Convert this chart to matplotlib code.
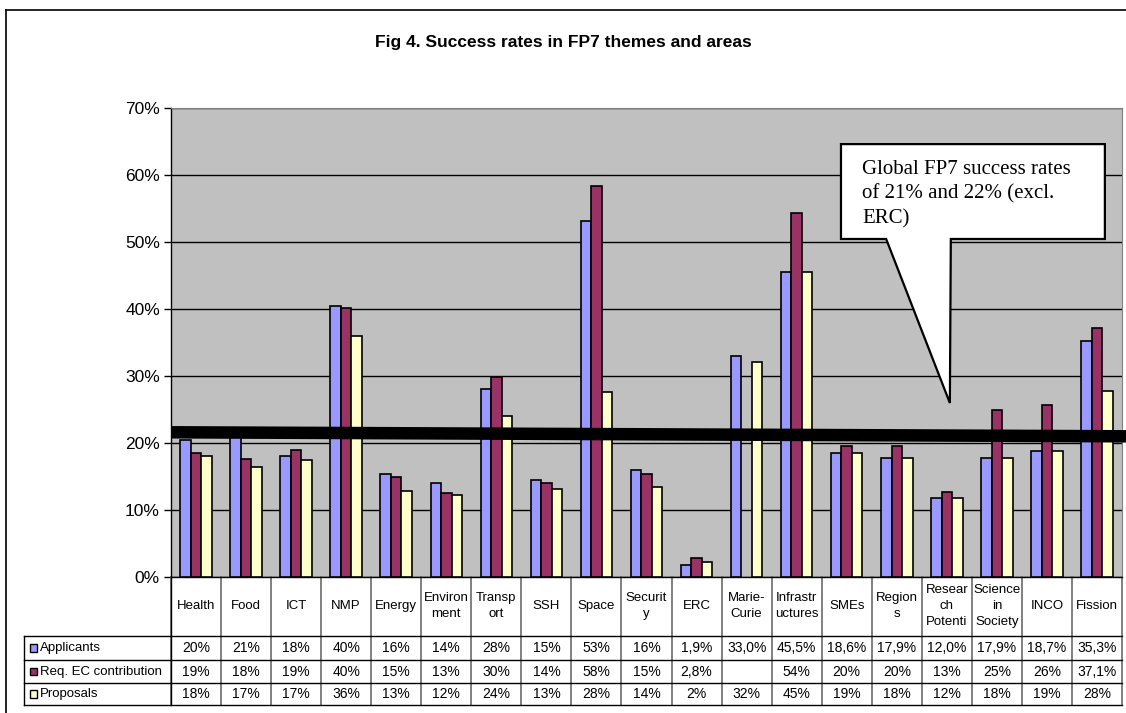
import numpy as np
import matplotlib
matplotlib.use('Agg')
import matplotlib.pyplot as plt
from matplotlib.patches import Polygon, Rectangle
from matplotlib.lines import Line2D
import matplotlib.transforms as mtransforms
from matplotlib.ticker import FuncFormatter

plt.rcParams['font.family'] = ['Liberation Sans', 'DejaVu Sans']

# categories as shown in the table header (wrapped like the original)
categories = ['Health', 'Food', 'ICT', 'NMP', 'Energy', 'Environ\nment', 'Transp\nort',
              'SSH', 'Space', 'Securit\ny', 'ERC', 'Marie-\nCurie', 'Infrastr\nuctures',
              'SMEs', 'Region\ns', 'Resear\nch\nPotenti', 'Science\nin\nSociety', 'INCO', 'Fission']

# bar heights (%)
applicants = [20.4, 21.0, 18.0, 40.4, 15.4, 14.0, 28.1, 14.5, 53.1, 15.9, 1.8, 33.0, 45.5,
              18.5, 17.8, 11.8, 17.8, 18.8, 35.2]
req_ec = [18.5, 17.6, 19.0, 40.2, 14.9, 12.6, 29.8, 14.0, 58.3, 15.4, 2.8, np.nan, 54.3,
          19.5, 19.5, 12.7, 24.9, 25.6, 37.1]
proposals = [18.0, 16.4, 17.4, 35.9, 12.8, 12.3, 24.0, 13.2, 27.6, 13.5, 2.3, 32.1, 45.5,
             18.5, 17.8, 11.8, 17.8, 18.8, 27.8]

# data table text
applicants_lbl = ['20%', '21%', '18%', '40%', '16%', '14%', '28%', '15%', '53%', '16%', '1,9%',
                  '33,0%', '45,5%', '18,6%', '17,9%', '12,0%', '17,9%', '18,7%', '35,3%']
req_ec_lbl = ['19%', '18%', '19%', '40%', '15%', '13%', '30%', '14%', '58%', '15%', '2,8%',
              '', '54%', '20%', '20%', '13%', '25%', '26%', '37,1%']
proposals_lbl = ['18%', '17%', '17%', '36%', '13%', '12%', '24%', '13%', '28%', '14%', '2%',
                 '32%', '45%', '19%', '18%', '12%', '18%', '19%', '28%']

series_names = ['Applicants', 'Req. EC contribution', 'Proposals']
series_colors = ['#9999FF', '#993366', '#FFFFCC']

# global rate line (start / end)
global_rate = [21.6, 21.0]

fig = plt.figure(figsize=(11.26, 7.13), dpi=100)
ax = fig.add_axes([171 / 1126, 1 - 577 / 713, 951 / 1126, 469 / 713])
ax.set_facecolor('#C0C0C0')

x = np.arange(len(categories))
w = 0.21
for i, (vals, col) in enumerate(zip([applicants, req_ec, proposals], series_colors)):
    v = np.array(vals) / 100
    ax.bar(x + (i - 1) * w, v, w, color=col, edgecolor='black', linewidth=1.2, zorder=3)

ax.set_xlim(-0.5, len(categories) - 0.5)
ax.set_ylim(0, 0.70)
ax.set_yticks(np.arange(0, 0.71, 0.1))
ax.yaxis.set_major_formatter(FuncFormatter(lambda v, p: '%d%%' % round(v * 100)))
ax.tick_params(axis='y', labelsize=12.5, length=5, width=1, pad=3, direction='out')
ax.set_xticks([])
ax.grid(axis='y', color='black', linewidth=1)
ax.set_axisbelow(True)
for s in ['top', 'right']:
    ax.spines[s].set_color('#808080')
ax.spines['left'].set_linewidth(1)
ax.spines['bottom'].set_linewidth(1)

# thick global line
ax.plot([-0.5, len(categories) - 0.42], np.array(global_rate) / 100, color='black',
        linewidth=9, solid_capstyle='butt', clip_on=False, zorder=5)

# callout
L, R, T, B = 0.7045, 0.982, 0.923, 0.7207
tail_l, tail_r, tip = 0.752, 0.820, (0.819, 0.371)
callout = Polygon([(L, T), (R, T), (R, B), (tail_r, B), tip, (tail_l, B), (L, B)],
                  closed=True, facecolor='white', edgecolor='black', linewidth=1.6,
                  transform=ax.transAxes, zorder=6)
ax.add_patch(callout)
ax.text(0.7266, 0.890, 'Global FP7 success rates\nof 21% and 22% (excl.\nERC)',
        transform=ax.transAxes, family=['Liberation Serif', 'DejaVu Serif'], fontsize=15,
        va='top', ha='left', linespacing=1.4, zorder=7)

# data table below the axis
tr = mtransforms.blended_transform_factory(ax.transData, ax.transAxes)
ypx = lambda py: (577 - py) / 469
row_top = [636, 660, 683]
row_bot = 705
n = len(categories)
for i in range(n + 1):
    ax.add_line(Line2D([i - 0.5, i - 0.5], [0, ypx(row_bot)], transform=tr, color='#808080',
                       linewidth=1.4, clip_on=False))
ax.add_line(Line2D([-0.5, -0.5], [0, ypx(row_bot)], transform=tr, color='black',
                   linewidth=1, clip_on=False))
for py in row_top + [row_bot]:
    ax.add_line(Line2D([(24 - 171) / 951, 1], [ypx(py)] * 2, transform=ax.transAxes,
                       color='black', linewidth=1, clip_on=False))
ax.add_line(Line2D([(24 - 171) / 951] * 2, [ypx(636), ypx(row_bot)], transform=ax.transAxes,
                   color='black', linewidth=1, clip_on=False))

for i, cat in enumerate(categories):
    ax.text(i, ypx(606), cat, transform=tr, ha='center', va='center', fontsize=9.5,
            linespacing=1.4)

row_mid = [648, 671.5, 694]
for r, (lbls, name, col) in enumerate(zip([applicants_lbl, req_ec_lbl, proposals_lbl],
                                          series_names, series_colors)):
    yy = ypx(row_mid[r])
    for i, t in enumerate(lbls):
        ax.text(i, yy, t, transform=tr, ha='center', va='center', fontsize=10)
    ax.add_patch(Rectangle(((30 - 171) / 951, yy - 0.0085), 7 / 951, 0.017,
                           transform=ax.transAxes, facecolor=col, edgecolor='black',
                           linewidth=1, clip_on=False))
    ax.text((40 - 171) / 951, yy, name, transform=ax.transAxes, ha='left', va='center',
            fontsize=9.5)

# title and outer frame
fig.text(563 / 1126, 1 - 43 / 713, 'Fig 4. Success rates in FP7 themes and areas',
         ha='center', va='center', fontsize=12.5, fontweight='bold')
fig.add_artist(Line2D([6 / 1126, 1], [1 - 10 / 713] * 2, color='black', linewidth=1.2))
fig.add_artist(Line2D([6 / 1126] * 2, [0, 1 - 10 / 713], color='black', linewidth=1.2))

fig.savefig('out.png', dpi=100)
